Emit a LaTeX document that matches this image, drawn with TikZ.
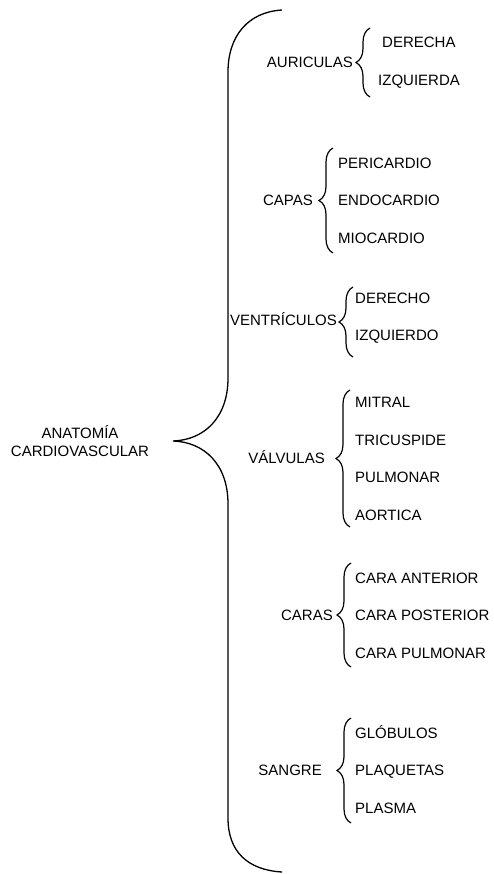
\documentclass[tikz,border=0pt]{standalone}
\usepackage{fontspec}
\setmainfont{Liberation Sans}
\usetikzlibrary{decorations.pathreplacing}

\begin{document}
\begin{tikzpicture}[x=1pt, y=-1pt,
        texto/.style={inner sep=0pt, text height=10.7pt, text depth=0pt, font=\fontsize{15}{18}\selectfont},
        rama/.style={texto, anchor=east},
        hoja/.style={texto, anchor=west},
        llave/.style={decorate, decoration={brace, amplitude=14pt}, line width=1.2pt},
        llavegrande/.style={line width=1.3pt}]
        \useasboundingbox (0,0) rectangle (494,874);

        % Titulo
        \node[inner sep=0pt, align=center, font=\fontsize{15}{18}\selectfont] (anatomia) at (80,441) {ANATOM\'IA\\CARDIOVASCULAR};

        % Llave grande
        \coordinate (punta) at (173,441);
        \draw[llavegrande] (282,10) .. controls (248,12) and (228,36) .. (228,72) -- (228,378)
              .. controls (228,418) and (204,440) .. (punta)
              .. controls (204,442) and (228,464) .. (228,504) -- (228,818)
              .. controls (228,852) and (248,870) .. (282,872);

        % Auriculas
        \node[rama] (auriculas) at (353,62) {AURICULAS};
        \node[hoja] (derecha) at (382,42) {DERECHA};
        \node[hoja] (izquierda) at (378,80) {IZQUIERDA};
        \coordinate (aur-arriba) at (370,28);
        \coordinate (aur-abajo) at (370,97);
        \draw[llave] (aur-abajo) -- (aur-arriba);

        % Capas
        \node[rama] (capas) at (313,200) {CAPAS};
        \node[hoja] (pericardio) at (338,163) {PERICARDIO};
        \node[hoja] (endocardio) at (338,200) {ENDOCARDIO};
        \node[hoja] (miocardio) at (338,238) {MIOCARDIO};
        \coordinate (cap-arriba) at (333,148);
        \coordinate (cap-abajo) at (333,253);
        \draw[llave] (cap-abajo) -- (cap-arriba);

        % Ventriculos
        \node[rama] (ventriculos) at (337,320) {VENTR\'ICULOS};
        \node[hoja] (derecho) at (355,298) {DERECHO};
        \node[hoja] (izquierdo) at (355,335) {IZQUIERDO};
        \coordinate (ven-arriba) at (353,287);
        \coordinate (ven-abajo) at (353,357);
        \draw[llave] (ven-abajo) -- (ven-arriba);

        % Valvulas
        \node[rama] (valvulas) at (325,458) {V\'ALVULAS};
        \node[hoja] (mitral) at (355,402) {MITRAL};
        \node[hoja] (tricuspide) at (355,440) {TRICUSPIDE};
        \node[hoja] (pulmonar) at (355,477) {PULMONAR};
        \node[hoja] (aortica) at (355,515) {AORTICA};
        \coordinate (val-arriba) at (350,390);
        \coordinate (val-abajo) at (350,527);
        \draw[llave] (val-abajo) -- (val-arriba);

        % Caras
        \node[rama] (caras) at (333,615) {CARAS};
        \node[hoja] (anterior) at (355,578) {CARA ANTERIOR};
        \node[hoja] (posterior) at (355,615) {CARA POSTERIOR};
        \node[hoja] (carapulmonar) at (355,653) {CARA PULMONAR};
        \coordinate (car-arriba) at (351,563);
        \coordinate (car-abajo) at (351,667);
        \draw[llave] (car-abajo) -- (car-arriba);

        % Sangre
        \node[rama] (sangre) at (322,770) {SANGRE};
        \node[hoja] (globulos) at (355,733) {GL\'OBULOS};
        \node[hoja] (plaquetas) at (355,770) {PLAQUETAS};
        \node[hoja] (plasma) at (355,808) {PLASMA};
        \coordinate (san-arriba) at (351,718);
        \coordinate (san-abajo) at (351,823);
        \draw[llave] (san-abajo) -- (san-arriba);
\end{tikzpicture}
\end{document}
